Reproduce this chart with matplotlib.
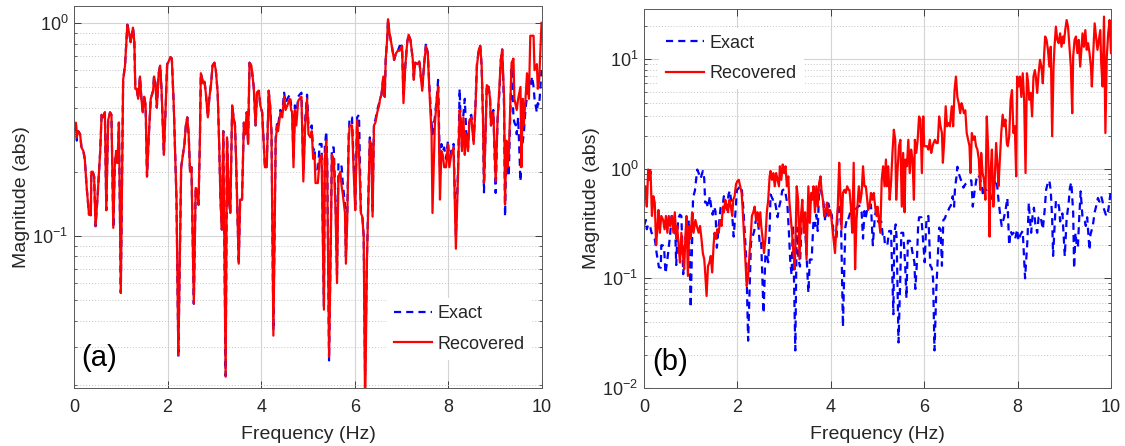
import numpy as np
import matplotlib
matplotlib.use("Agg")
import matplotlib.pyplot as plt
from matplotlib.ticker import LogLocator, NullFormatter

# Frequency grid (Hz) shared by the exact signal and the panel (a) recovery
freq_a = [
    0.00, 0.04, 0.06, 0.09, 0.13, 0.16, 0.20, 0.23, 0.27, 0.32, 0.36, 0.37, 0.40, 0.43, 0.46,
    0.50, 0.56, 0.59, 0.63, 0.66, 0.69, 0.73, 0.77, 0.80, 0.84, 0.87, 0.90, 0.93, 0.96, 1.00,
    1.05, 1.09, 1.14, 1.19, 1.21, 1.26, 1.29, 1.31, 1.34, 1.37, 1.41, 1.44, 1.47, 1.50,
    1.53, 1.56, 1.60, 1.64, 1.69, 1.71, 1.74, 1.77, 1.81, 1.84, 1.87, 1.92, 1.96, 1.99,
    2.01, 2.06, 2.09, 2.13, 2.19, 2.23, 2.29, 2.36, 2.39, 2.42, 2.45, 2.48, 2.51,
    2.56, 2.60, 2.63, 2.66, 2.69, 2.71, 2.76, 2.79, 2.82, 2.86, 2.89, 2.93, 2.96,
    3.00, 3.03, 3.07, 3.10, 3.13, 3.16, 3.19, 3.21, 3.24, 3.27, 3.31, 3.34, 3.38, 3.41, 3.44,
    3.46, 3.52, 3.55, 3.59, 3.63, 3.66, 3.69, 3.72, 3.75, 3.79, 3.84, 3.88, 3.91, 3.95, 3.98,
    4.02, 4.05, 4.08, 4.12, 4.16, 4.19, 4.22, 4.26, 4.31, 4.34, 4.36, 4.41, 4.45, 4.49,
    4.52, 4.56, 4.61, 4.64, 4.66, 4.69, 4.72, 4.75, 4.79, 4.82, 4.86, 4.90, 4.94, 4.98,
    5.01, 5.05, 5.08, 5.11, 5.14, 5.16, 5.21, 5.25, 5.29, 5.34, 5.36, 5.39, 5.41, 5.45, 5.49,
    5.51, 5.55, 5.59, 5.62, 5.65, 5.69, 5.72, 5.74, 5.79, 5.81, 5.84, 5.87, 5.89, 5.94, 5.98,
    6.01, 6.05, 6.09, 6.13, 6.16, 6.19, 6.22, 6.26, 6.29, 6.32, 6.35, 6.38, 6.41, 6.44, 6.48,
    6.52, 6.54, 6.57, 6.61, 6.64, 6.66, 6.69, 6.71, 6.74, 6.79, 6.84, 6.88, 6.92, 6.96,
    7.01, 7.04, 7.08, 7.12, 7.15, 7.19, 7.24, 7.26, 7.29, 7.34, 7.38, 7.41, 7.44, 7.48,
    7.52, 7.56, 7.59, 7.64, 7.66, 7.71, 7.75, 7.78, 7.82, 7.85, 7.88, 7.91, 7.95, 7.99,
    8.02, 8.06, 8.11, 8.16, 8.21, 8.24, 8.26, 8.29, 8.32, 8.35, 8.38, 8.42, 8.45, 8.49,
    8.54, 8.58, 8.61, 8.65, 8.68, 8.71, 8.74, 8.76, 8.79, 8.82, 8.86, 8.89, 8.91, 8.96,
    9.01, 9.05, 9.09, 9.12, 9.15, 9.19, 9.21, 9.24, 9.26, 9.29, 9.32, 9.35, 9.39, 9.41, 9.44,
    9.46, 9.49, 9.54, 9.56, 9.59, 9.61, 9.65, 9.68, 9.72, 9.75, 9.79, 9.82, 9.84, 9.89, 9.91,
    9.94, 9.99,
]

exact = [
    0.30, 0.34, 0.28, 0.31, 0.30, 0.26, 0.25, 0.23, 0.17, 0.126, 0.125, 0.20, 0.20, 0.19, 0.111,
    0.148, 0.25, 0.37, 0.36, 0.38, 0.132, 0.35, 0.38, 0.37, 0.109, 0.21, 0.25, 0.22, 0.34, 0.054,
    0.54, 0.63, 0.98, 0.87, 0.81, 0.95, 0.81, 0.49, 0.49, 0.44, 0.56, 0.44, 0.38, 0.45,
    0.41, 0.19, 0.30, 0.44, 0.48, 0.56, 0.52, 0.40, 0.58, 0.63, 0.49, 0.24, 0.41, 0.64,
    0.65, 0.69, 0.68, 0.42, 0.148, 0.027, 0.21, 0.27, 0.33, 0.36, 0.30, 0.20, 0.21,
    0.048, 0.168, 0.164, 0.140, 0.28, 0.58, 0.52, 0.53, 0.46, 0.36, 0.44, 0.52, 0.63,
    0.65, 0.60, 0.47, 0.28, 0.148, 0.107, 0.31, 0.103, 0.022, 0.29, 0.148, 0.128, 0.41, 0.36, 0.33,
    0.24, 0.074, 0.148, 0.148, 0.34, 0.30, 0.38, 0.27, 0.65, 0.63, 0.50, 0.33, 0.47, 0.48, 0.41,
    0.38, 0.28, 0.21, 0.22, 0.48, 0.41, 0.31, 0.036, 0.29, 0.34, 0.33, 0.39, 0.38, 0.47,
    0.42, 0.44, 0.46, 0.41, 0.40, 0.23, 0.41, 0.36, 0.45, 0.46, 0.47, 0.20, 0.35, 0.46,
    0.33, 0.32, 0.33, 0.25, 0.26, 0.20, 0.20, 0.27, 0.27, 0.047, 0.26, 0.31, 0.23, 0.026, 0.11,
    0.26, 0.26, 0.14, 0.066, 0.22, 0.22, 0.21, 0.18, 0.14, 0.08, 0.13, 0.30, 0.36, 0.36, 0.21,
    0.14, 0.36, 0.37, 0.13, 0.125, 0.10, 0.022, 0.08, 0.15, 0.29, 0.28, 0.13, 0.34, 0.35, 0.39,
    0.42, 0.44, 0.46, 0.56, 0.45, 0.67, 0.83, 1.04, 0.90, 0.78, 0.67, 0.72, 0.74, 0.78,
    0.78, 0.45, 0.63, 0.81, 0.88, 0.83, 0.67, 0.56, 0.65, 0.64, 0.66, 0.56, 0.50, 0.63,
    0.80, 0.72, 0.52, 0.34, 0.30, 0.36, 0.44, 0.54, 0.20, 0.27, 0.25, 0.26, 0.23, 0.28,
    0.22, 0.25, 0.27, 0.10, 0.22, 0.49, 0.36, 0.26, 0.37, 0.44, 0.31, 0.26, 0.36, 0.37,
    0.28, 0.42, 0.64, 0.75, 0.78, 0.63, 0.35, 0.16, 0.28, 0.51, 0.50, 0.44, 0.33, 0.39,
    0.159, 0.35, 0.47, 0.67, 0.75, 0.40, 0.123, 0.26, 0.21, 0.19, 0.36, 0.62, 0.36, 0.34, 0.33,
    0.30, 0.36, 0.18, 0.25, 0.28, 0.30, 0.40, 0.45, 0.54, 0.50, 0.56, 0.50, 0.44, 0.38, 0.42,
    0.41, 0.60,
]

recovered_a = [
    0.33, 0.34, 0.29, 0.31, 0.30, 0.26, 0.25, 0.23, 0.17, 0.126, 0.125, 0.20, 0.20, 0.19, 0.111,
    0.148, 0.25, 0.37, 0.36, 0.38, 0.132, 0.35, 0.38, 0.37, 0.109, 0.21, 0.25, 0.22, 0.34, 0.054,
    0.54, 0.63, 0.98, 0.87, 0.81, 0.95, 0.81, 0.49, 0.49, 0.44, 0.56, 0.44, 0.38, 0.45,
    0.41, 0.19, 0.30, 0.44, 0.48, 0.56, 0.52, 0.40, 0.58, 0.63, 0.49, 0.24, 0.41, 0.64,
    0.65, 0.69, 0.68, 0.42, 0.148, 0.0276, 0.21, 0.27, 0.33, 0.36, 0.30, 0.20, 0.21,
    0.048, 0.168, 0.164, 0.140, 0.28, 0.58, 0.52, 0.53, 0.46, 0.36, 0.44, 0.52, 0.63,
    0.65, 0.60, 0.47, 0.28, 0.148, 0.107, 0.31, 0.103, 0.0218, 0.29, 0.148, 0.128, 0.41, 0.36, 0.33,
    0.24, 0.074, 0.148, 0.148, 0.34, 0.30, 0.38, 0.27, 0.65, 0.63, 0.50, 0.33, 0.47, 0.48, 0.41,
    0.38, 0.28, 0.21, 0.21, 0.48, 0.41, 0.30, 0.034, 0.28, 0.33, 0.31, 0.38, 0.36, 0.45,
    0.39, 0.41, 0.44, 0.39, 0.38, 0.21, 0.39, 0.33, 0.43, 0.44, 0.45, 0.18, 0.33, 0.44,
    0.30, 0.29, 0.31, 0.23, 0.24, 0.177, 0.177, 0.23, 0.24, 0.045, 0.23, 0.28, 0.21, 0.027, 0.103,
    0.24, 0.23, 0.128, 0.060, 0.19, 0.20, 0.17, 0.159, 0.128, 0.074, 0.123, 0.28, 0.33, 0.33, 0.19,
    0.132, 0.35, 0.25, 0.128, 0.123, 0.099, 0.015, 0.077, 0.148, 0.28, 0.27, 0.123, 0.33, 0.34, 0.38,
    0.41, 0.44, 0.46, 0.56, 0.45, 0.67, 0.83, 1.04, 0.90, 0.78, 0.67, 0.72, 0.74, 0.74,
    0.78, 0.42, 0.63, 0.81, 0.88, 0.83, 0.67, 0.54, 0.65, 0.64, 0.66, 0.56, 0.48, 0.63,
    0.78, 0.72, 0.50, 0.30, 0.128, 0.33, 0.44, 0.50, 0.148, 0.25, 0.24, 0.21, 0.21, 0.27,
    0.21, 0.24, 0.26, 0.087, 0.21, 0.39, 0.35, 0.25, 0.36, 0.24, 0.30, 0.25, 0.35, 0.36,
    0.27, 0.41, 0.63, 0.75, 0.78, 0.63, 0.35, 0.177, 0.28, 0.51, 0.50, 0.44, 0.33, 0.38,
    0.18, 0.35, 0.50, 0.67, 0.75, 0.44, 0.140, 0.28, 0.21, 0.24, 0.39, 0.65, 0.68, 0.44, 0.41,
    0.39, 0.44, 0.50, 0.21, 0.44, 0.33, 0.45, 0.58, 0.44, 0.87, 0.87, 0.87, 0.60, 0.64, 0.49,
    0.54, 1.00,
]

# Panel (b) recovery, read on its own frequency points
freq_b = [
    0.00, 0.03, 0.06, 0.09, 0.11, 0.14, 0.17, 0.20, 0.23, 0.26, 0.29, 0.31, 0.34, 0.37, 0.41, 0.44, 0.47,
    0.50, 0.53, 0.56, 0.60, 0.63, 0.66, 0.69, 0.71, 0.74, 0.77, 0.80, 0.83, 0.86, 0.89, 0.91, 0.94, 0.97,
    1.00, 1.03, 1.06, 1.10, 1.13, 1.17, 1.20, 1.23, 1.26, 1.29, 1.31, 1.34, 1.37, 1.40, 1.43, 1.46, 1.49,
    1.51, 1.54, 1.57, 1.60, 1.63, 1.66, 1.69, 1.71, 1.74, 1.77, 1.80, 1.83, 1.86, 1.89, 1.91, 1.94, 1.97,
    2.00, 2.03, 2.06, 2.09, 2.11, 2.14, 2.17, 2.20, 2.23, 2.26, 2.29, 2.31, 2.34, 2.37, 2.40, 2.43, 2.46,
    2.49, 2.51, 2.54, 2.57, 2.60, 2.63, 2.66, 2.69, 2.71, 2.74, 2.77, 2.80, 2.83, 2.86, 2.89, 2.91, 2.94, 2.97,
    3.00, 3.03, 3.06, 3.09, 3.11, 3.14, 3.17, 3.20, 3.23, 3.27, 3.30, 3.33, 3.36, 3.39, 3.42, 3.45, 3.48,
    3.52, 3.55, 3.58, 3.60, 3.63, 3.66, 3.69, 3.72, 3.75, 3.78, 3.80, 3.83, 3.86, 3.89, 3.92, 3.95, 3.98,
    4.00, 4.03, 4.06, 4.09, 4.12, 4.15, 4.18, 4.20, 4.23, 4.26, 4.29, 4.32, 4.35, 4.38, 4.40, 4.43, 4.46,
    4.49, 4.52, 4.55, 4.58, 4.60, 4.63, 4.66, 4.69, 4.72, 4.75, 4.78, 4.80, 4.83, 4.86, 4.89, 4.92, 4.95, 4.98,
    5.00, 5.03, 5.06, 5.09, 5.12, 5.15, 5.18, 5.20, 5.23, 5.26, 5.29, 5.32, 5.35, 5.38, 5.40, 5.43, 5.46,
    5.49, 5.52, 5.55, 5.58, 5.60, 5.63, 5.66, 5.69, 5.72, 5.75, 5.78, 5.80, 5.83, 5.86, 5.89, 5.92, 5.95, 5.98,
    6.00, 6.03, 6.06, 6.09, 6.12, 6.15, 6.18, 6.20, 6.23, 6.26, 6.29, 6.32, 6.35, 6.38, 6.40, 6.43, 6.46,
    6.49, 6.52, 6.55, 6.59, 6.62, 6.65, 6.68, 6.71, 6.74, 6.77, 6.80, 6.82, 6.85, 6.88, 6.91, 6.94, 6.97,
    6.99, 7.02, 7.05, 7.08, 7.11, 7.14, 7.17, 7.20, 7.22, 7.25, 7.28, 7.31, 7.34, 7.37, 7.40, 7.42, 7.45,
    7.48, 7.51, 7.54, 7.57, 7.59, 7.62, 7.65, 7.68, 7.71, 7.74, 7.77, 7.79, 7.82, 7.85, 7.88, 7.91, 7.94, 7.97,
    7.99, 8.02, 8.05, 8.08, 8.11, 8.14, 8.17, 8.20, 8.22, 8.25, 8.28, 8.31, 8.34, 8.37, 8.39, 8.42, 8.45,
    8.48, 8.51, 8.54, 8.57, 8.59, 8.62, 8.65, 8.68, 8.71, 8.74, 8.77, 8.79, 8.82, 8.85, 8.88, 8.91, 8.94, 8.97,
    8.99, 9.02, 9.05, 9.08, 9.11, 9.14, 9.17, 9.19, 9.22, 9.25, 9.28, 9.31, 9.34, 9.37, 9.39, 9.42, 9.45, 9.48,
    9.51, 9.54, 9.57, 9.59, 9.62, 9.65, 9.68, 9.71, 9.74, 9.77, 9.79, 9.82, 9.85, 9.88, 9.91, 9.94, 9.97, 10.00,
]

recovered_b = [
    0.52, 0.69, 0.45, 0.98, 0.79, 0.95, 0.37, 0.56, 0.49, 0.20, 0.30, 0.42, 0.26, 0.37, 0.34, 0.28, 0.37,
    0.26, 0.37, 0.30, 0.37, 0.26, 0.40, 0.23, 0.30, 0.20, 0.139, 0.26, 0.17, 0.121, 0.26, 0.37, 0.105, 0.30,
    0.23, 0.40, 0.26, 0.34, 0.30, 0.26, 0.30, 0.23, 0.17, 0.149, 0.113, 0.069, 0.129, 0.139, 0.16, 0.113, 0.20,
    0.26, 0.23, 0.28, 0.26, 0.34, 0.30, 0.45, 0.40, 0.52, 0.45, 0.40, 0.52, 0.45, 0.37, 0.52, 0.56, 0.72,
    0.77, 0.79, 0.69, 0.60, 0.45, 0.26, 0.149, 0.085, 0.105, 0.17, 0.26, 0.37, 0.40, 0.45, 0.34, 0.40, 0.30,
    0.40, 0.30, 0.23, 0.17, 0.23, 0.40, 0.52, 0.85, 0.95, 0.79, 0.91, 0.69, 0.91, 0.79, 0.69, 1.05, 0.79, 1.09,
    0.91, 1.05, 0.69, 0.85, 0.52, 0.37, 0.26, 0.17, 0.121, 0.69, 0.52, 0.149, 0.37, 0.52, 0.26, 0.40, 0.149,
    0.69, 0.32, 0.60, 0.52, 0.69, 0.40, 0.69, 0.45, 0.74, 0.85, 0.64, 0.52, 0.37, 0.40, 0.49, 0.37, 0.42,
    0.40, 0.30, 0.23, 0.17, 0.30, 0.45, 1.13, 0.69, 0.28, 0.60, 0.64, 0.60, 0.69, 0.64, 0.64, 0.45, 0.26,
    1.13, 0.121, 0.34, 0.52, 0.69, 0.49, 0.60, 1.05, 0.69, 0.69, 0.52, 0.42, 0.45, 0.60, 0.52, 0.60, 0.45, 0.37,
    0.45, 0.34, 0.26, 0.79, 1.05, 0.69, 1.21, 0.69, 1.05, 0.52, 0.74, 1.39, 2.26, 1.83, 0.52, 0.98, 1.60,
    1.83, 0.45, 1.39, 0.40, 1.21, 1.05, 1.83, 0.91, 1.49, 1.21, 0.52, 1.83, 1.39, 1.83, 2.99, 2.80, 0.91, 2.99,
    1.60, 1.60, 1.60, 1.49, 1.83, 1.39, 1.60, 1.71, 1.83, 1.71, 1.71, 2.99, 2.43, 2.11, 1.13, 1.83, 3.70,
    2.43, 2.60, 2.43, 3.70, 2.43, 5.20, 6.90, 4.50, 3.95, 3.20, 3.95, 3.70, 3.20, 3.40, 2.11, 1.83, 1.60,
    0.91, 2.11, 1.83, 1.97, 1.60, 1.49, 1.21, 0.64, 1.39, 0.91, 0.79, 0.52, 2.99, 1.49, 0.24, 0.91, 1.49,
    0.45, 0.79, 1.71, 1.05, 0.69, 1.21, 2.11, 3.10, 2.43, 2.80, 1.71, 1.60, 1.97, 4.24, 5.20, 2.11, 2.43, 0.85,
    6.9, 5.6, 6.9, 4.5, 7.4, 4.24, 0.91, 7.4, 6.4, 4.24, 4.9, 2.99, 6.9, 7.9, 6.9, 4.9, 7.4,
    9.8, 8.5, 6.0, 11.3, 16.0, 14.9, 12.1, 8.5, 12.9, 1.97, 8.5, 12.9, 19.7, 14.9, 13.9, 17.1, 12.9, 16.0,
    13.9, 18.3, 22.6, 19.7, 12.9, 8.5, 3.2, 10.5, 14.9, 16.0, 11.3, 14.9, 8.5, 12.9, 17.1, 12.9, 18.3, 12.1,
    13.9, 11.3, 8.5, 5.6, 11.3, 21.1, 16.0, 12.1, 14.9, 18.3, 9.2, 5.6, 24.3, 2.11, 10.5, 17.1, 22.6, 11.3,
]

assert len(freq_a) == len(exact) == len(recovered_a)
assert len(freq_b) == len(recovered_b)

TXT = "#262626"
plt.rcParams["font.family"] = ["Liberation Sans", "DejaVu Sans"]
plt.rcParams["mathtext.fontset"] = "custom"
plt.rcParams["mathtext.rm"] = "Liberation Sans"
plt.rcParams["mathtext.it"] = "Liberation Sans:italic"
plt.rcParams["mathtext.bf"] = "Liberation Sans:bold"

fig = plt.figure(figsize=(11.25, 4.46), dpi=100)
ax_a = fig.add_axes([74 / 1125, 1 - 388 / 446, 468 / 1125, 382 / 446])
ax_b = fig.add_axes([644 / 1125, 1 - 388 / 446, 467 / 1125, 379 / 446])

dash = (0, (3.2, 2.3))


def style_axes(ax, ylim):
    ax.set_yscale("log")
    ax.set_xlim(0, 10)
    ax.set_ylim(*ylim)
    ax.set_xticks(np.arange(0, 11, 2))
    ax.yaxis.set_major_locator(LogLocator(base=10, numticks=10))
    ax.yaxis.set_minor_locator(LogLocator(base=10, subs=np.arange(2, 10), numticks=20))
    ax.yaxis.set_minor_formatter(NullFormatter())
    ax.grid(True, which="major", color="#d4d4d4", linewidth=0.8, linestyle="-")
    ax.grid(True, which="minor", axis="y", color="#c4c4c4", linewidth=0.7, linestyle=(0, (1, 2)))
    ax.set_axisbelow(True)
    ax.tick_params(which="both", direction="in", top=True, right=True, colors=TXT,
                   labelcolor=TXT, labelsize=13)
    ax.tick_params(which="major", length=5, width=0.6)
    ax.tick_params(which="minor", length=2.5, width=0.5)
    ax.tick_params(axis="x", pad=8)
    ax.tick_params(axis="y", pad=4)
    for sp in ax.spines.values():
        sp.set_color("#5a5a5a")
        sp.set_linewidth(0.7)
    ax.set_xlabel("Frequency (Hz)", fontsize=14, color=TXT, labelpad=7)
    ax.set_ylabel("Magnitude (abs)", fontsize=14, color=TXT, labelpad=2)


def add_legend(ax, **kw):
    leg = ax.legend(frameon=True, fontsize=13, handlelength=2.1, handletextpad=0.3,
                    labelspacing=0.75, borderpad=0.4, **kw)
    leg.get_frame().set_edgecolor("none")
    leg.get_frame().set_facecolor("white")
    leg.get_frame().set_alpha(1)
    for t in leg.get_texts():
        t.set_color(TXT)


# Panel (a)
ax_a.plot(freq_a, exact, color="#0000ff", linestyle=dash, linewidth=1.6, label="Exact")
ax_a.plot(freq_a, recovered_a, color="#ff0000", linewidth=1.6, label="Recovered")
style_axes(ax_a, (0.0193, 1.2))
add_legend(ax_a, loc="lower right", bbox_to_anchor=(0.998, 0.05))
ax_a.text(0.015, 0.058, "(a)", transform=ax_a.transAxes, fontsize=21, color="black",
          ha="left", va="baseline")

# Panel (b)
ax_b.plot(freq_a, exact, color="#0000ff", linestyle=dash, linewidth=1.6, label="Exact")
ax_b.plot(freq_b, recovered_b, color="#ff0000", linewidth=1.6, label="Recovered")
style_axes(ax_b, (0.01, 28.5))
add_legend(ax_b, loc="upper left", bbox_to_anchor=(0.012, 0.975))
ax_b.text(0.017, 0.048, "(b)", transform=ax_b.transAxes, fontsize=21, color="black",
          ha="left", va="baseline")

fig.savefig("out.png", dpi=100, facecolor="white")
